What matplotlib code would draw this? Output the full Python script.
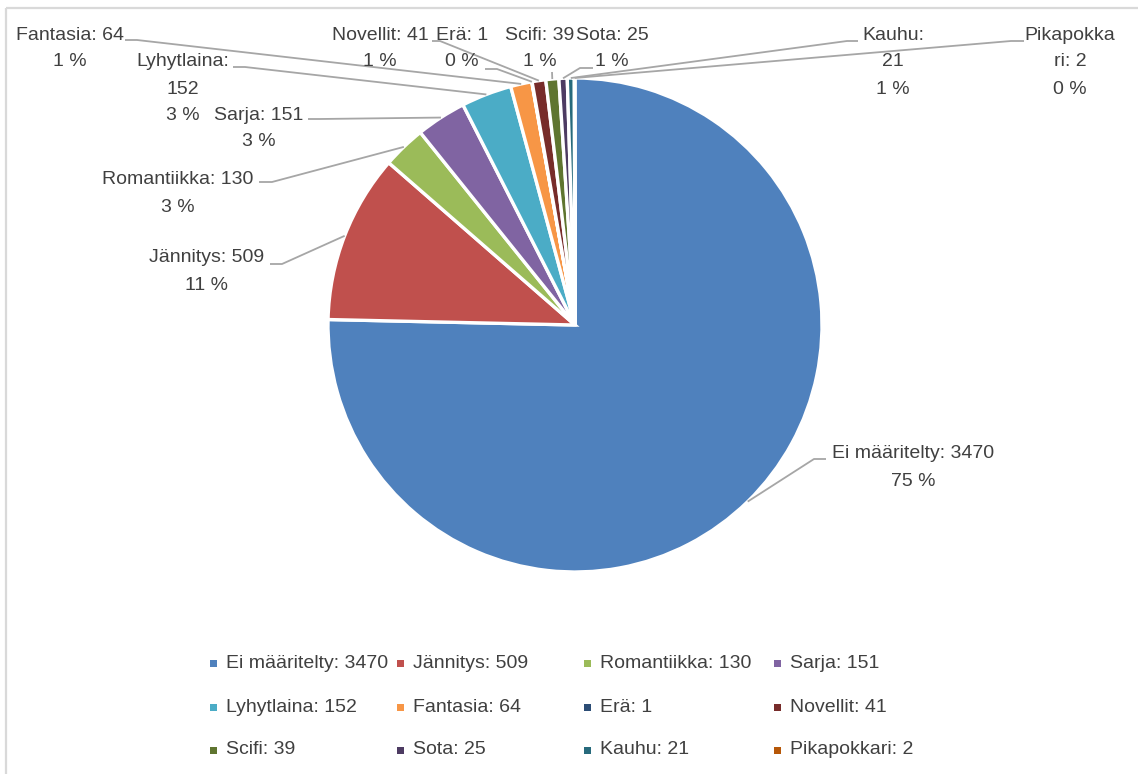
import matplotlib
matplotlib.use("Agg")
import matplotlib.pyplot as plt
from matplotlib import font_manager
from matplotlib.patches import Rectangle
import numpy as np

# ---------------- data ----------------
categories = ["Ei määritelty", "Jännitys", "Romantiikka", "Sarja", "Lyhytlaina",
              "Fantasia", "Erä", "Novellit", "Scifi", "Sota", "Kauhu", "Pikapokkari"]
values = [3470, 509, 130, 151, 152, 64, 1, 41, 39, 25, 21, 2]
colors = ["#4F81BD", "#C0504D", "#9BBB59", "#8064A2", "#4BACC6", "#F79646",
          "#2C4D75", "#772C2A", "#5F7530", "#4D3B62", "#276A7C", "#B65708"]

# percentages rounded so they sum to 100 (largest remainder, as Excel does)
total = sum(values)
raw = [v * 100.0 / total for v in values]
pct = [int(np.floor(r)) for r in raw]
rest = 100 - sum(pct)
order = sorted(range(len(raw)), key=lambda i: raw[i] - np.floor(raw[i]), reverse=True)
for i in order[:rest]:
    pct[i] += 1

# ---------------- fonts ----------------
avail = {f.name for f in font_manager.fontManager.ttflist}
if "Liberation Sans Narrow" in avail:
    FONT = ["Liberation Sans Narrow", "DejaVu Sans"]
    FS = 16.3
else:
    FONT = ["Liberation Sans", "DejaVu Sans"]
    FS = 14
plt.rcParams["font.family"] = FONT
TXT = "#404040"
LINE = "#A6A6A6"

W, H = 1138, 774
fig = plt.figure(figsize=(W / 100, H / 100), dpi=100)
ax = fig.add_axes([0, 0, 1, 1])

# pie (pixel coordinate system, y pointing down)
cx, cy, R = 575, 325, 247
wedges, _ = ax.pie(values, colors=colors, center=(cx, cy), radius=R,
                   startangle=-90, counterclock=True,
                   wedgeprops=dict(edgecolor="white", linewidth=2.4),
                   frame=True)
ax.set_xlim(0, W)
ax.set_ylim(H, 0)
ax.set_aspect("auto")
ax.axis("off")

# chart border (light grey, left and top visible)
ax.add_patch(Rectangle((6, 8), W + 20, H + 20, fill=False, edgecolor="#D9D9D9",
                       linewidth=1.6, zorder=0))

# ---------------- data labels ----------------
def label_text(i):
    name, v, p = categories[i], values[i], pct[i]
    if name == "Lyhytlaina" or name == "Kauhu":
        return f"{name}:\n{v}\n{p} %"
    if name == "Pikapokkari":
        s = f"{name}: {v}"
        return f"{s[:9]}\n{s[9:]}\n{p} %"
    return f"{name}: {v}\n{p} %"

# layout: label centre x, first-line centre y, leader stub start, elbow
label_pos = [(913, 452), (207, 256), (178, 178), (259, 113), (183, 60), (70, 33),
             (462, 33), (380, 33), (540, 33), (612, 33), (893, 33), (1070, 33)]
stub_start = [(826, 459), (270, 264), (259, 182), (308, 119), (233, 67), (125, 40),
              (485, 69), (432, 41), (552, 72), (593, 68), (858, 41), (1024, 41)]
elbow = [(814, 459), (282, 264), (272, 182), (320, 119), (245, 67), (137, 40),
         (497, 69), (440, 41), (552, 72), (580, 68), (847, 41), (1011, 41)]

LP = 27  # line pitch in px
for i, w in enumerate(wedges):
    txt = label_text(i)
    x, y = label_pos[i]
    for k, line in enumerate(txt.split("\n")):
        ax.text(x, y + k * LP, line, ha="center", va="center_baseline",
                fontsize=FS, color=TXT)
    mid = np.deg2rad((w.theta1 + w.theta2) / 2)
    ex = cx + R * np.cos(mid)
    ey = cy + R * np.sin(mid)
    xs = [stub_start[i][0], elbow[i][0], ex]
    ys = [stub_start[i][1], elbow[i][1], ey]
    ax.plot(xs, ys, color=LINE, linewidth=1.3, solid_capstyle="butt", zorder=1)

# ---------------- legend (row-wise, equal column widths) ----------------
col_x = [214, 401, 588, 778]
row_y = [663, 707, 750]
for i, name in enumerate(categories):
    r, c = divmod(i, 4)
    mx, my = col_x[c], row_y[r]
    ax.add_patch(Rectangle((mx - 3.5, my - 3.5), 7, 7, facecolor=colors[i],
                           edgecolor="none"))
    ax.text(mx + 12, my, f"{name}: {values[i]}", ha="left", va="center",
            fontsize=FS, color=TXT)

fig.savefig("out.png", dpi=100)
